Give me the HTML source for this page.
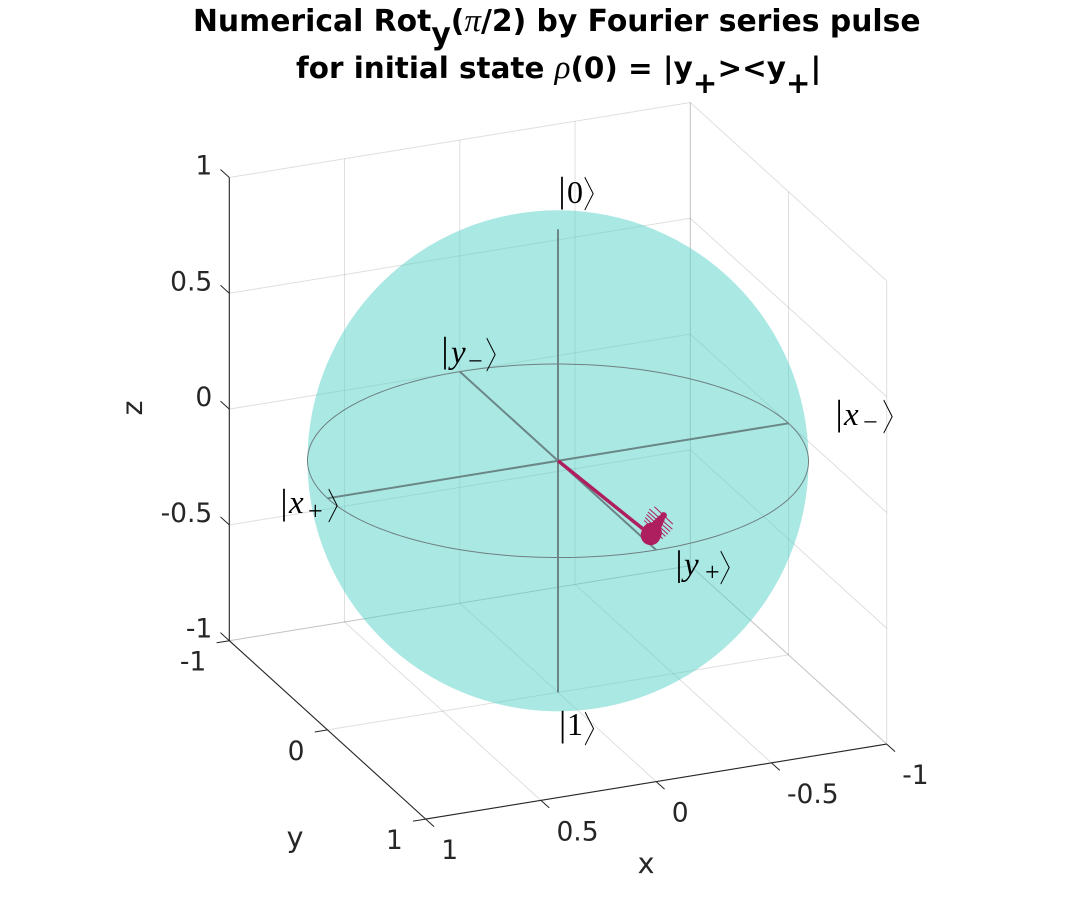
<!DOCTYPE html>
<html>
<head>
<meta charset="utf-8">
<title>Bloch sphere</title>
<style>
html,body{margin:0;padding:0;background:#fff;width:1079px;height:920px;overflow:hidden}
svg{display:block}
text{font-family:"DejaVu Sans","Liberation Sans",sans-serif;fill:#262626}
.tick{font-size:26.5px}
.alabel{font-size:28.5px}
.title{font-size:29.5px;font-weight:bold;fill:#000}
.greek{font-family:"Liberation Serif",serif;font-style:italic;font-weight:normal;font-size:33px}
.ket text{fill:#000}
.ket .bar{font-family:"Liberation Serif",serif;font-size:36px;font-weight:normal}
.ket .ang{font-family:"Noto Serif CJK SC","DejaVu Sans",serif;font-size:36px}
.ket .sym{font-family:"Liberation Serif",serif;font-style:italic;font-size:33px}
.ket .num{font-family:"Liberation Serif",serif;font-size:32px}
.ket .sub{font-family:"Liberation Serif",serif;font-size:26px}
</style>
</head>
<body>
<svg id="chart" width="1079" height="920" viewBox="0 0 1079 920" xmlns="http://www.w3.org/2000/svg">
  <g id="grid"></g>
  <circle id="sphere" fill="#55d1c9" fill-opacity="0.5"></circle>
  <g id="axesLines"></g>
  <path id="equator" fill="none" stroke="#6f7f80" stroke-width="1"></path>
  <g id="traj"></g>
  <g id="rulers"></g>
  <g id="tickLabels"></g>

  <text class="alabel" x="646" y="873" text-anchor="middle">x</text>
  <text class="alabel" x="295" y="847" text-anchor="middle">y</text>
  <text class="alabel" transform="translate(142,408) rotate(-90)" text-anchor="middle">z</text>

  <text class="title" x="193" y="31" style="font-size:29.8px">Numerical Rot<tspan dy="13">y</tspan><tspan dy="-13">(</tspan><tspan class="greek">π</tspan>/2) by Fourier series pulse</text>
  <text class="title" x="296" y="78" style="font-size:29.4px">for initial state <tspan class="greek">ρ</tspan>(0) = |y<tspan dy="15">+</tspan><tspan dy="-15">&gt;&lt;y</tspan><tspan dy="15">+</tspan><tspan dy="-15">|</tspan></text>

  <g class="ket"><text class="bar" x="558.4" y="202">|</text><text class="num" x="567" y="203">0</text><text class="ang" transform="translate(583.6,207) scale(0.6,1)">〉</text></g>
  <g class="ket"><text class="bar" x="559" y="736">|</text><text class="num" x="567" y="735">1</text><text class="ang" transform="translate(584,742) scale(0.6,1)">〉</text></g>
  <g class="ket"><text class="bar" x="441.4" y="362">|</text><text class="sym" x="451" y="363">y</text><text class="sub" x="468" y="369.5">−</text><text class="ang" transform="translate(485.6,368) scale(0.6,1)">〉</text></g>
  <g class="ket"><text class="bar" x="835.5" y="425">|</text><text class="sym" x="844" y="425">x</text><text class="sub" x="863" y="430.5">−</text><text class="ang" transform="translate(882.6,430) scale(0.6,1)">〉</text></g>
  <g class="ket"><text class="bar" x="280.4" y="514">|</text><text class="sym" x="289" y="513">x</text><text class="sub" x="308" y="519.5">+</text><text class="ang" transform="translate(327.6,519) scale(0.6,1)">〉</text></g>
  <g class="ket"><text class="bar" x="675.4" y="575.5">|</text><text class="sym" x="684" y="575">y</text><text class="sub" x="705" y="580.5">+</text><text class="ang" transform="translate(719.6,581) scale(0.6,1)">〉</text></g>
</svg>
<script>
// Axis tick values and their printed labels
const xTicks = [-1, -0.5, 0, 0.5, 1];
const xTickLabels = ['-1', '-0.5', '0', '0.5', '1'];
const yTicks = [-1, 0, 1];
const yTickLabels = ['-1', '0', '1'];
const zTicks = [-1, -0.5, 0, 0.5, 1];
const zTickLabels = ['-1', '-0.5', '0', '0.5', '1'];

// Bloch vector states
const stateX = [-0.040, -0.045, -0.052, -0.060, -0.068, -0.076, -0.084, -0.096];
const stateY = [0.850, 0.850, 0.850, 0.850, 0.850, 0.850, 0.850, 0.850];
const stateZ = [0.000, 0.010, 0.022, 0.032, 0.042, 0.052, 0.062, 0.076];

// Small control vectors plotted on the tip states
const vectorX = [0.000, 0.000, 0.040, 0.044, 0.046, 0.048, 0.050, 0.040];
const vectorY = [0.000, 0.000, 0.000, 0.000, 0.000, 0.000, 0.000, 0.000];
const vectorZ = [0.000, 0.000, 0.046, 0.048, 0.050, 0.050, 0.052, 0.044];

// Basis axes: limits of the drawn unit vectors
const basisRange = [-1, 1];
// Sphere radius in data units
const sphereRadius = [1];

const NS = 'http://www.w3.org/2000/svg';
function px(x, y, z) { return 558 - 230.5 * x + 98.2 * y; }
function py(x, y, z) { return 460.8 + 37.5 * x + 89.2 * y - 231.6 * z; }

function makeLine(parent, a, b, color, width) {
  const el = document.createElementNS(NS, 'line');
  el.setAttribute('x1', px(a[0], a[1], a[2]));
  el.setAttribute('y1', py(a[0], a[1], a[2]));
  el.setAttribute('x2', px(b[0], b[1], b[2]));
  el.setAttribute('y2', py(b[0], b[1], b[2]));
  el.setAttribute('stroke', color);
  el.setAttribute('stroke-width', width);
  parent.appendChild(el);
  return el;
}
function makeText(parent, x, y, s, anchor) {
  const el = document.createElementNS(NS, 'text');
  el.setAttribute('class', 'tick');
  el.setAttribute('x', x);
  el.setAttribute('y', y);
  el.setAttribute('text-anchor', anchor);
  el.textContent = s;
  parent.appendChild(el);
  return el;
}

const gridG = document.getElementById('grid');
const rulers = document.getElementById('rulers');
const labelsG = document.getElementById('tickLabels');
const gridColor = 'rgba(38,38,38,0.15)';

const xMin = xTicks[0], xMax = xTicks[xTicks.length - 1];
const yMin = yTicks[0], yMax = yTicks[yTicks.length - 1];
const zMin = zTicks[0], zMax = zTicks[zTicks.length - 1];

xTicks.forEach(function (t) {
  const g1 = makeLine(gridG, [t, yMin, zMin], [t, yMin, zMax], gridColor, 1);
  
  
  const g2 = makeLine(gridG, [t, yMin, zMin], [t, yMax, zMin], gridColor, 1);
  
  
});
yTicks.forEach(function (t) {
  const g1 = makeLine(gridG, [xMin, t, zMin], [xMin, t, zMax], gridColor, 1);
  
  
  const g2 = makeLine(gridG, [xMin, t, zMin], [xMax, t, zMin], gridColor, 1);
  
  
});
zTicks.forEach(function (t) {
  const g1 = makeLine(gridG, [xMax, yMin, t], [xMin, yMin, t], gridColor, 1);
  
  
  const g2 = makeLine(gridG, [xMin, yMin, t], [xMin, yMax, t], gridColor, 1);
  
  
});

// Sphere: orthographic projection radius equals the horizontal unit length
const sphere = document.getElementById('sphere');
sphere.setAttribute('cx', px(0, 0, 0));
sphere.setAttribute('cy', py(0, 0, 0));
sphere.setAttribute('r', sphereRadius[0] * Math.hypot(230.5, 98.2));

// Equator
let eq = '';
for (let i = 0; i <= 180; i++) {
  const t = i / 180 * 2 * Math.PI;
  const ex = sphereRadius[0] * Math.cos(t), ey = sphereRadius[0] * Math.sin(t);
  eq += (i ? 'L' : 'M') + px(ex, ey, 0).toFixed(2) + ' ' + py(ex, ey, 0).toFixed(2);
}
document.getElementById('equator').setAttribute('d', eq + 'Z');

// Basis axes
const axesG = document.getElementById('axesLines');
const axisColor = '#6b8686';
const ax1 = makeLine(axesG, [basisRange[0], 0, 0], [basisRange[1], 0, 0], axisColor, 2);


const ax2 = makeLine(axesG, [0, basisRange[0], 0], [0, basisRange[1], 0], axisColor, 2);


const ax3 = makeLine(axesG, [0, 0, basisRange[0]], [0, 0, basisRange[1]], axisColor, 2);



// Trajectory
const trajG = document.getElementById('traj');
const trajColor = '#ae1f5f';
const origin = [0, 0, 0];
stateX.forEach(function (sx, i) {
  const p = [sx, stateY[i], stateZ[i]];
  if (i === 0) {
    const ray = makeLine(trajG, origin, p, trajColor, 3.5);
    
    
  }
  const w1 = makeLine(trajG, p, [p[0] - vectorX[i], p[1], p[2] - vectorZ[i]], trajColor, 1);
  
  
  const w2 = makeLine(trajG, p, [p[0] + vectorX[i], p[1], p[2] + vectorZ[i]], trajColor, 1);
  
  
  const c = document.createElementNS(NS, 'circle');
  c.setAttribute('cx', px(p[0], p[1], p[2]));
  c.setAttribute('cy', py(p[0], p[1], p[2]));
  c.setAttribute('r', i < 2 ? 10 : Math.max(3, 7.5 - i * 0.6));
  c.setAttribute('fill', trajColor);
  
  
  trajG.appendChild(c);
});

// Rulers
const rulerColor = '#262626';
const zr = makeLine(rulers, [xMax, yMin, zMin], [xMax, yMin, zMax], rulerColor, 1.1);


const yr = makeLine(rulers, [xMax, yMin, zMin], [xMax, yMax, zMin], rulerColor, 1.1);


const xr = makeLine(rulers, [xMax, yMax, zMin], [xMin, yMax, zMin], rulerColor, 1.1);



const tickLenX = 0.055, tickLenY = 0.085, tickLenZ = 0.09;
xTicks.forEach(function (t, i) {
  const tk = makeLine(rulers, [t, yMax, zMin], [t, yMax + tickLenY, zMin], rulerColor, 1);
  
  
  const lb = makeText(labelsG, px(t, yMax, zMin) + 15.5, py(t, yMax, zMin) + 40, xTickLabels[i], 'start');
  
  
});
yTicks.forEach(function (t, i) {
  const tk = makeLine(rulers, [xMax, t, zMin], [xMax + tickLenX, t, zMin], rulerColor, 1);
  
  
  const lb = makeText(labelsG, px(xMax, t, zMin) - 23, py(xMax, t, zMin) + 30, yTickLabels[i], 'end');
  
  
});
zTicks.forEach(function (t, i) {
  const tk = makeLine(rulers, [xMax, yMin, t], [xMax, yMin - tickLenZ, t], rulerColor, 1);
  
  
  const lb = makeText(labelsG, px(xMax, yMin, t) - 17, py(xMax, yMin, t) - 3, zTickLabels[i], 'end');
  
  
});
</script>
</body>
</html>
